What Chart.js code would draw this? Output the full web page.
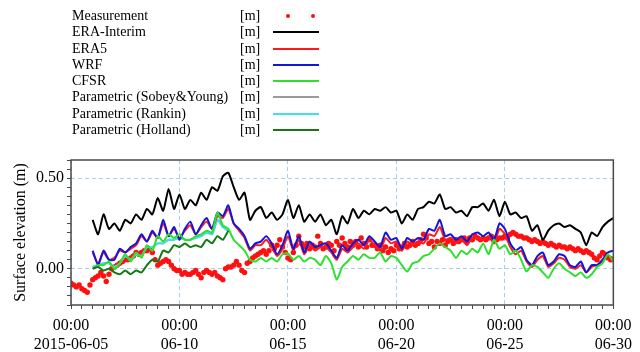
<!DOCTYPE html>
<html>
<head>
<meta charset="utf-8">
<script src="https://cdn.jsdelivr.net/npm/chart.js@4.4.0/dist/chart.umd.min.js"></script>
<style>
  body { margin: 0; background: #fff; }
  #wrap { position: relative; width: 640px; height: 352px; font-family: 'Liberation Serif', 'Times New Roman', serif; }
  #plot { position: absolute; left: 0; top: 0; }
  #legend { position: absolute; left: 72px; top: 8px; font-size: 14px; color: #000; }
  .row { position: relative; height: 16.3px; line-height: 16px; white-space: nowrap; }
  .name { position: absolute; left: 0; }
  .unit { position: absolute; left: 168px; }
  .swatch { position: absolute; left: 201px; top: 7px; width: 46px; height: 2px; }
  .dot { position: absolute; top: 6px; width: 4px; height: 4px; border-radius: 50%; }
</style>
</head>
<body>
<div id="wrap">
  <canvas id="plot" width="640" height="352"></canvas>
  <div id="legend"></div>
</div>
<script>
// time axis: days since 2015-06-05 00:00
const dayLabels = ['2015-06-05', '06-10', '06-15', '06-20', '06-25', '06-30'];
const obsStart = 0, obsStep = 0.125;     // gauge record, 3-hourly
const modelStart = 1, modelStep = 0.25;  // model output, 6-hourly

const measured = [
  -0.08, -0.09, -0.10, -0.09, -0.11, -0.12, -0.13, -0.09,
  -0.06, -0.05, -0.04, -0.02, -0.04, -0.07, -0.03, 0.00,
  0.01, 0.02, 0.03, 0.04, 0.05, 0.05, 0.06, 0.07,
  0.09, 0.08, 0.09, 0.10, 0.10, 0.11, 0.09, 0.05,
  0.02, 0.03, 0.04, 0.05, 0.04, 0.02, 0.00, -0.01,
  -0.01, -0.03, -0.02, -0.03, -0.03, -0.02, -0.01, -0.03,
  -0.05, -0.02, -0.01, -0.02, -0.03, -0.02, -0.04, -0.05,
  -0.06, 0.00, 0.01, 0.01, 0.02, 0.04, 0.02, -0.01,
  -0.02, 0.03, 0.04, 0.06, 0.07, 0.08, 0.09, 0.10,
  0.08, 0.10, 0.13, 0.11, 0.13, 0.16, 0.12, 0.09,
  0.06, 0.05, 0.09, 0.13, 0.18, 0.14, 0.12, 0.14,
  0.11, 0.13, 0.12, 0.18, 0.14, 0.11, 0.12, 0.14,
  0.13, 0.10, 0.15, 0.13, 0.17, 0.14, 0.12, 0.15,
  0.13, 0.15, 0.12, 0.17, 0.14, 0.12, 0.16, 0.13,
  0.13, 0.11, 0.13, 0.10, 0.12, 0.09, 0.11, 0.10,
  0.13, 0.11, 0.12, 0.14, 0.12, 0.13, 0.15, 0.13,
  0.14, 0.16, 0.19, 0.17, 0.14, 0.15, 0.12, 0.15,
  0.14, 0.16, 0.13, 0.15, 0.16, 0.14, 0.16, 0.15,
  0.16, 0.17, 0.15, 0.17, 0.16, 0.18, 0.17, 0.16,
  0.17, 0.16, 0.17, 0.18, 0.17, 0.16, 0.17, 0.17,
  0.18, 0.17, 0.19, 0.20, 0.19, 0.18, 0.18, 0.17,
  0.17, 0.16, 0.15, 0.16, 0.15, 0.14, 0.15, 0.14,
  0.13, 0.14, 0.13, 0.12, 0.13, 0.12, 0.12, 0.11,
  0.12, 0.11, 0.10, 0.11, 0.10, 0.09, 0.10, 0.09,
  0.08, 0.06, 0.05, 0.07, 0.09, 0.08, 0.06, 0.05,
  0.05
];

const eraInterim = [
  0.27, 0.19, 0.30, 0.22,  0.25, 0.21, 0.27, 0.25,  0.30, 0.27, 0.33, 0.30,
  0.39, 0.32, 0.44, 0.33,  0.41, 0.33, 0.38, 0.35,  0.42, 0.38, 0.45, 0.43,
  0.51, 0.53, 0.45, 0.38,  0.42, 0.27, 0.32, 0.34,  0.28, 0.31, 0.27, 0.30,
  0.38, 0.28, 0.35, 0.26,  0.30, 0.26, 0.30, 0.24,  0.27, 0.19, 0.29, 0.25,
  0.33, 0.28, 0.32, 0.30,  0.33, 0.32, 0.34, 0.31,  0.32, 0.25, 0.30, 0.27,
  0.33, 0.34, 0.37, 0.36,  0.41, 0.33, 0.34, 0.31,  0.32, 0.29, 0.34, 0.34,
  0.36, 0.32, 0.38, 0.29,  0.37, 0.30, 0.31, 0.28,  0.29, 0.21, 0.24, 0.16,
  0.21, 0.24, 0.25, 0.23,  0.24, 0.22, 0.20, 0.13,  0.20, 0.18, 0.23, 0.26,
  0.28
];

const era5 = [
  0.09, 0.03, 0.09, 0.05,  0.06, 0.10, 0.09, 0.11,  0.13, 0.18, 0.15, 0.20,
  0.17, 0.25, 0.18, 0.22,  0.17, 0.21, 0.24, 0.19,  0.23, 0.26, 0.22, 0.29,
  0.28, 0.33, 0.25, 0.21,  0.17, 0.10, 0.13, 0.13,  0.16, 0.12, 0.07, 0.11,
  0.18, 0.10, 0.16, 0.08,  0.13, 0.10, 0.12, 0.12,  0.09, 0.05, 0.11, 0.09,
  0.12, 0.14, 0.11, 0.16,  0.13, 0.10, 0.17, 0.14,  0.15, 0.10, 0.15, 0.13,
  0.15, 0.14, 0.19, 0.18,  0.23, 0.16, 0.17, 0.14,  0.16, 0.13, 0.17, 0.17,
  0.16, 0.18, 0.14, 0.22,  0.19, 0.12, 0.08, 0.10,  0.04, 0.01, 0.05, 0.07,
  0.01, 0.03, 0.06, 0.05,  0.01, 0.00, 0.02, -0.02,  0.01, 0.02, 0.04, 0.07,
  0.06
];

const wrf = [
  0.10, 0.02, 0.10, 0.05,  0.05, 0.11, 0.09, 0.12,  0.14, 0.19, 0.15, 0.21,
  0.17, 0.27, 0.18, 0.23,  0.16, 0.22, 0.26, 0.19,  0.24, 0.28, 0.22, 0.31,
  0.29, 0.35, 0.25, 0.22,  0.18, 0.11, 0.14, 0.15,  0.18, 0.14, 0.08, 0.13,
  0.21, 0.11, 0.18, 0.09,  0.15, 0.12, 0.13, 0.14,  0.10, 0.06, 0.13, 0.10,
  0.14, 0.16, 0.13, 0.18,  0.15, 0.12, 0.20, 0.16,  0.17, 0.11, 0.17, 0.15,
  0.17, 0.16, 0.22, 0.21,  0.27, 0.18, 0.19, 0.16,  0.18, 0.15, 0.19, 0.20,
  0.18, 0.20, 0.16, 0.25,  0.22, 0.14, 0.10, 0.12,  0.05, 0.02, 0.07, 0.09,
  0.02, 0.04, 0.08, 0.07,  0.02, 0.01, 0.04, -0.02,  0.02, 0.02, 0.05, 0.09,
  0.10
];

const cfsr = [
  0.00, 0.02, 0.02, 0.04,  0.00, 0.03, 0.08, 0.04,  0.09, 0.06, 0.13, 0.10,
  0.18, 0.15, 0.19, 0.17,  0.19, 0.16, 0.16, 0.18,  0.19, 0.21, 0.20, 0.31,
  0.24, 0.22, 0.16, 0.13,  0.10, 0.05, 0.04, 0.06,  0.04, 0.06, 0.04, 0.08,
  0.085, 0.05, 0.07, 0.04,  0.06, 0.05, 0.02, 0.07,  0.03, -0.06, 0.01, 0.04,
  0.07, 0.05, 0.08, 0.06,  0.06, 0.09, 0.04, 0.07,  0.06, 0.02, -0.015, 0.03,
  0.04, 0.07, 0.08, 0.11,  0.14, 0.12, 0.10, 0.06,  0.10, 0.08, 0.11, 0.09,
  0.14, 0.08, 0.16, 0.11,  0.13, 0.08, 0.10, 0.05,  -0.015, 0.02, 0.01, -0.02,
  -0.05, 0.00, 0.03, 0.00,  -0.02, -0.04, -0.02, -0.05,  -0.03, 0.01, 0.03, 0.08,
  0.04
];

// parametric wind fields only cover the typhoon passage (06-06 .. 06-12)
const sobeyYoung = [
  0.01, 0.02, 0.03, 0.03,  0.01, 0.03, 0.07, 0.05,  0.08, 0.07, 0.12, 0.12,
  0.14, 0.14, 0.16, 0.16,  0.17, 0.16, 0.16, 0.17,  0.18, 0.20, 0.19, 0.27,
  0.23, 0.21
];
const rankin = [
  0.01, 0.02, 0.03, 0.03,  0.01, 0.03, 0.07, 0.05,  0.08, 0.07, 0.12, 0.12,
  0.14, 0.14, 0.16, 0.16,  0.17, 0.16, 0.16, 0.17,  0.18, 0.20, 0.19, 0.27,
  0.23, 0.21
];
const holland = [
  0.00, 0.01, -0.01, 0.00,  -0.02, -0.03, -0.01, -0.03,  -0.01, -0.02, 0.02, 0.05,
  0.04, 0.10, 0.09, 0.13,  0.12, 0.14, 0.12, 0.13,  0.12, 0.16, 0.14, 0.18,
  0.16, 0.21
];

const serif = "'Liberation Serif', 'Times New Roman', serif";
const gridBlue = '#a8d2e4';
const frameColor = '#4a4a4a';
const clear = 'rgba(0,0,0,0)';

const legendRows = [
  { label: 'Measurement', color: '#ff1010', dots: true },
  { label: 'ERA-Interim', color: '#000000' },
  { label: 'ERA5', color: '#ff1a1a' },
  { label: 'WRF', color: '#1515d8' },
  { label: 'CFSR', color: '#2ee02e' },
  { label: 'Parametric (Sobey&Young)', color: '#9a9a9a' },
  { label: 'Parametric (Rankin)', color: '#40e0f0' },
  { label: 'Parametric (Holland)', color: '#137a13' }
];

function toPoints(vals, start, step) {
  return vals.map((v, i) => ({ x: start + i * step, y: v }));
}

function lineSet(idx, vals, order) {
  const c = legendRows[idx].color;
  return {
    label: legendRows[idx].label,
    data: toPoints(vals, modelStart, modelStep),
    borderColor: c, backgroundColor: c,
    borderWidth: 2, pointRadius: 0, tension: 0.2, fill: false, order: order
  };
}

// legend block above the plot
const legend = document.getElementById('legend');
legendRows.forEach(r => {
  const row = document.createElement('div');
  row.className = 'row';
  let mark = r.dots
    ? `<span class="dot" style="left:214px;background:${r.color}"></span><span class="dot" style="left:239px;background:${r.color}"></span>`
    : `<span class="swatch" style="background:${r.color}"></span>`;
  row.innerHTML = `<span class="name">${r.label.replace('&', '&amp;')}</span><span class="unit">[m]</span>${mark}`;
  legend.appendChild(row);
});

const isLabelledY = v => Math.abs(v) < 1e-6 || Math.abs(v - 0.5) < 1e-6;

const framePlugin = {
  id: 'frame',
  afterDraw(chart) {
    const { ctx, chartArea: a } = chart;
    ctx.save();
    ctx.strokeStyle = frameColor;
    ctx.lineWidth = 1.5;
    ctx.strokeRect(a.left, a.top, a.right - a.left, a.bottom - a.top);
    ctx.restore();
  }
};

new Chart(document.getElementById('plot'), {
  type: 'line',
  data: {
    datasets: [
      {
        label: legendRows[0].label,
        data: toPoints(measured, obsStart, obsStep),
        showLine: false,
        pointRadius: 2.7,
        pointBorderWidth: 0,
        pointBackgroundColor: legendRows[0].color,
        order: 8
      },
      lineSet(1, eraInterim, 5),
      lineSet(2, era5, 4),
      lineSet(3, wrf, 3),
      lineSet(4, cfsr, 2),
      lineSet(5, sobeyYoung, 7),
      lineSet(6, rankin, 6),
      lineSet(7, holland, 1)
    ]
  },
  options: {
    responsive: false,
    animation: false,
    devicePixelRatio: 1,
    layout: { padding: { top: 160, right: 22, left: 0, bottom: 0 } },
    plugins: { legend: { display: false }, tooltip: { enabled: false } },
    scales: {
      x: {
        type: 'linear', min: 0, max: 25,
        afterFit(s) { s.height = 47; },
        border: { display: false, dash: [4, 3] },
        grid: {
          color: c => (c.tick && c.tick.value % 5 === 0) ? gridBlue : clear,
          tickColor: frameColor, tickLength: 4, tickWidth: 1
        },
        ticks: {
          stepSize: 0.5, autoSkip: false, maxRotation: 0, padding: 8, color: '#000',
          font: { family: serif, size: 16, lineHeight: 1.15 },
          callback: v => v % 5 === 0 ? ['00:00', dayLabels[v / 5]] : ''
        }
      },
      y: {
        min: -0.2, max: 0.6,
        afterFit(s) { s.width = 71; },
        border: { display: false, dash: [4, 3] },
        grid: {
          color: c => (c.tick && isLabelledY(c.tick.value)) ? gridBlue : clear,
          tickColor: frameColor, tickLength: 4, tickWidth: 1
        },
        ticks: {
          stepSize: 0.05, maxTicksLimit: 100, autoSkip: false, padding: 3, color: '#000',
          font: { family: serif, size: 16 },
          callback: v => isLabelledY(v) ? Math.abs(v).toFixed(2) : ''
        },
        title: {
          display: true, text: 'Surface elevation (m)', color: '#000',
          font: { family: serif, size: 16 }, padding: { top: 11, bottom: 0 }
        }
      }
    }
  },
  plugins: [framePlugin]
});
</script>
</body>
</html>
